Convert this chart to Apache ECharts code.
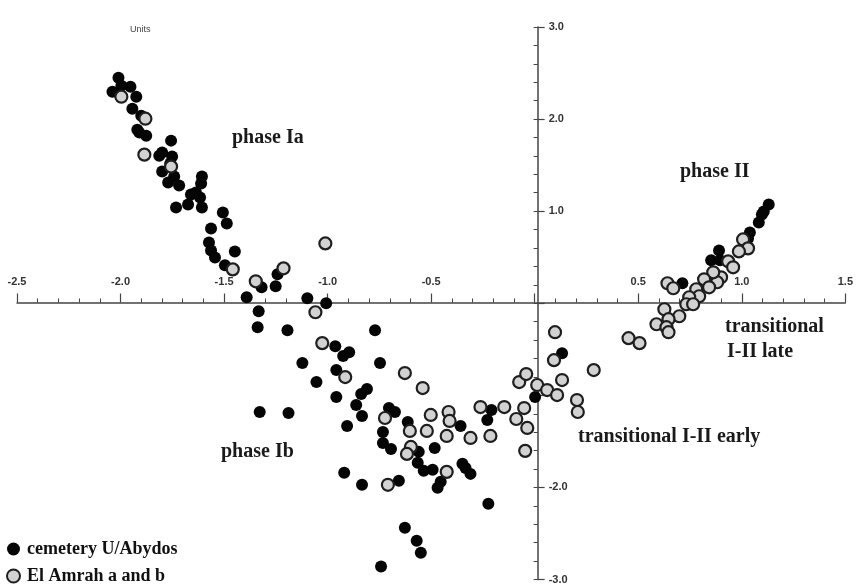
<!DOCTYPE html>
<html>
<head>
<meta charset="utf-8">
<script src="https://cdn.jsdelivr.net/npm/echarts@6/dist/echarts.min.js"></script>
<style>
html,body{margin:0;padding:0;background:#fff;}
#chart{width:856px;height:585px;}
</style>
</head>
<body>
<div id="chart"></div>
<script>
// Series: cemetery U/Abydos (black dots)
const cemeteryU = [
[-2.010,2.449],[-1.952,2.351],[-2.039,2.297],[-1.996,2.362],[-1.924,2.243],[-1.943,2.113],[-1.900,2.037],
[-1.919,1.885],[-1.909,1.853],[-1.876,1.820],[-1.756,1.766],[-1.813,1.603],[-1.799,1.636],[-1.751,1.593],
[-1.760,1.517],[-1.799,1.430],[-1.741,1.376],[-1.770,1.311],[-1.717,1.278],[-1.607,1.376],[-1.611,1.300],
[-1.660,1.181],[-1.636,1.203],[-1.616,1.148],[-1.674,1.073],[-1.732,1.040],[-1.607,1.040],[-1.506,0.986],
[-1.487,0.867],[-1.563,0.813],[-1.573,0.661],[-1.563,0.574],[-1.544,0.498],[-1.448,0.563],[-1.496,0.412],
[-1.319,0.173],[-1.251,0.184],[-1.242,0.314],[-1.391,0.065],[-1.098,0.054],[-1.007,0.000],[-1.333,-0.087],
[-1.338,-0.260],[-1.194,-0.293],[-0.963,-0.466],[-0.925,-0.574],[-1.122,-0.650],[-0.771,-0.293],[-0.896,-0.531],
[-0.747,-0.650],[-0.958,-0.726],[-1.054,-0.856],[-0.810,-0.932],[-0.838,-0.986],[-0.958,-1.018],[-0.862,-1.105],
[-0.704,-1.138],[-0.675,-1.181],[-0.834,-1.224],[-1.189,-1.192],[-1.328,-1.181],[-0.906,-1.333],[-0.613,-1.289],
[-0.733,-1.398],[-0.733,-1.517],[-0.694,-1.582],[-0.560,-1.614],[-0.483,-1.571],[-0.565,-1.733],[-0.536,-1.820],
[-0.493,-1.809],[-0.920,-1.842],[-0.358,-1.333],[-0.209,-1.159],[-0.229,-1.268],[0.002,-1.018],[-0.349,-1.744],
[-0.334,-1.788],[-0.310,-1.853],[-0.454,-1.939],[-0.469,-2.004],[-0.834,-1.972],[-0.656,-1.928],[-0.224,-2.178],
[-0.627,-2.438],[-0.570,-2.579],[-0.550,-2.709],[-0.742,-2.860],[0.132,-0.542],[0.713,0.217],[0.890,0.574],
[0.852,0.466],[0.895,0.466],[1.039,0.769],[1.030,0.704],[1.082,0.878],[1.097,0.964],[1.106,0.997],[1.130,1.073]
];
// Series: El Amrah a and b (grey circles)
const elAmrah = [
[-1.996,2.243],[-1.880,2.004],[-1.885,1.614],[-1.756,1.484],[-1.458,0.368],[-1.347,0.238],[-1.213,0.379],
[-1.011,0.650],[-1.059,-0.098],[-1.026,-0.433],[-0.915,-0.802],[-0.627,-0.758],[-0.541,-0.921],[-0.723,-1.246],
[-0.502,-1.213],[-0.603,-1.387],[-0.521,-1.387],[-0.598,-1.560],[-0.617,-1.636],[-0.416,-1.181],[-0.411,-1.278],
[-0.262,-1.127],[-0.147,-1.127],[-0.051,-1.138],[-0.089,-1.257],[-0.036,-1.354],[-0.075,-0.856],[-0.041,-0.769],
[0.012,-0.888],[-0.425,-1.441],[-0.310,-1.463],[-0.214,-1.441],[-0.046,-1.603],[-0.425,-1.831],[-0.709,-1.972],
[0.098,-0.314],[0.093,-0.618],[0.285,-0.726],[0.453,-0.379],[0.506,-0.433],[0.060,-0.943],[0.108,-0.997],
[0.132,-0.834],[0.204,-1.051],[0.208,-1.181],[1.006,0.693],[1.030,0.596],[0.986,0.563],[0.934,0.455],
[0.958,0.390],[0.900,0.282],[0.881,0.228],[0.862,0.336],[0.818,0.260],[0.842,0.173],[0.641,0.217],
[0.669,0.163],[0.780,0.152],[0.794,0.076],[0.746,0.065],[0.732,-0.011],[0.765,-0.011],[0.626,-0.065],
[0.698,-0.141],[0.646,-0.173],[0.588,-0.228],[0.636,-0.260],[0.646,-0.314]
];
const seriesNames = ['cemetery U/Abydos', 'El Amrah a and b'];
const xTickLabels = ['-2.5','-2.0','-1.5','-1.0','-0.5','','0.5','1.0','1.5'];
const yTickLabels = {'3':'3.0','2':'2.0','1':'1.0','-2':'-2.0','-3':'-3.0'};
const annotations = ['Units','phase Ia','phase II','transitional','I-II late','transitional I-II early','phase Ib'];

const X_MIN = -2.5, X_MAX = 1.5, Y_MIN = -3, Y_MAX = 3;
const G = {left:17, right:6, top:27, bottom:4, w:856, h:585};
const plotW = G.w - G.left - G.right, plotH = G.h - G.top - G.bottom;
// place axis lines through zero using axis offsets
const xAxisOffset = -(plotH * (0 - Y_MIN) / (Y_MAX - Y_MIN));
const yAxisOffset = -(plotW * (0 - X_MIN) / (X_MAX - X_MIN));

const chart = echarts.init(document.getElementById('chart'), null, {renderer:'canvas'});
const axisColor = '#444';
const labelFont = {color:'#333', fontFamily:'Liberation Sans, Arial, sans-serif', fontWeight:'bold', fontSize:11};
const serif = 'Liberation Serif, Times New Roman, serif';
const annFont = 'bold 20px ' + serif;

const option = {
  backgroundColor:'#fff',
  animation:false,
  grid:{left:G.left, right:G.right, top:G.top, bottom:G.bottom, containLabel:false},
  xAxis:{
    type:'value', min:X_MIN, max:X_MAX, interval:0.5, position:'bottom', offset:xAxisOffset,
    axisLine:{onZero:false, lineStyle:{color:axisColor, width:1.5}},
    axisTick:{show:true, inside:true, length:9, lineStyle:{color:axisColor, width:1.2}},
    minorTick:{show:true, splitNumber:5, length:4, lineStyle:{color:axisColor, width:1}},
    axisLabel:Object.assign({inside:true, margin:15, showMinLabel:true, showMaxLabel:true, hideOverlap:false,
      formatter:function(v){ const i=Math.round((v-X_MIN)/0.5); return xTickLabels[i]!==undefined?xTickLabels[i]:''; }}, labelFont),
    splitLine:{show:false}
  },
  yAxis:[{
    type:'value', min:Y_MIN, max:Y_MAX, interval:1, position:'left', offset:yAxisOffset,
    axisLine:{onZero:false, lineStyle:{color:axisColor, width:1.5}},
    axisTick:{show:true, inside:true, length:7, lineStyle:{color:axisColor, width:1.2}},
    axisLabel:Object.assign({inside:true, margin:11, showMinLabel:true, showMaxLabel:true, hideOverlap:false,
      formatter:function(v){ const k=String(Math.round(v)); return yTickLabels[k]||''; }}, labelFont),
    splitLine:{show:false}
  },{
    type:'value', min:Y_MIN, max:Y_MAX, interval:0.2, position:'left', offset:yAxisOffset,
    axisLine:{show:false, onZero:false},
    axisTick:{show:true, inside:false, length:4, lineStyle:{color:axisColor, width:1}},
    axisLabel:{show:false},
    splitLine:{show:false}
  }],
  legend:{
    orient:'vertical', left:6, bottom:0, padding:0, itemWidth:13, itemHeight:13, itemGap:9,
    data:seriesNames,
    textStyle:{fontFamily:serif, fontWeight:'bold', fontSize:18, color:'#111', padding:[0,0,0,2]}
  },
  series:[{
    name:seriesNames[0], type:'scatter', data:cemeteryU, symbol:'circle', symbolSize:12,
    itemStyle:{color:'#050505', borderWidth:0, opacity:1}, z:2
  },{
    name:seriesNames[1], type:'scatter', data:elAmrah, symbol:'circle', symbolSize:12,
    itemStyle:{color:'#d2d2d2', borderColor:'#1e1e1e', borderWidth:2.2, opacity:1}, z:3
  }],
  graphic:[
    {type:'text', left:130, top:25, style:{text:annotations[0], font:'9px Liberation Sans, Arial, sans-serif', fill:'#444'}},
    {type:'text', left:232, top:128, style:{text:annotations[1], font:annFont, fill:'#1a1a1a'}},
    {type:'text', left:680, top:162, style:{text:annotations[2], font:annFont, fill:'#1a1a1a'}},
    {type:'text', left:725, top:317, style:{text:annotations[3], font:annFont, fill:'#1a1a1a'}},
    {type:'text', left:727, top:342, style:{text:annotations[4], font:annFont, fill:'#1a1a1a'}},
    {type:'text', left:578, top:427, style:{text:annotations[5], font:annFont, fill:'#1a1a1a'}},
    {type:'text', left:221, top:442, style:{text:annotations[6], font:annFont, fill:'#1a1a1a'}}
  ]
};
chart.setOption(option);
</script>
</body>
</html>
